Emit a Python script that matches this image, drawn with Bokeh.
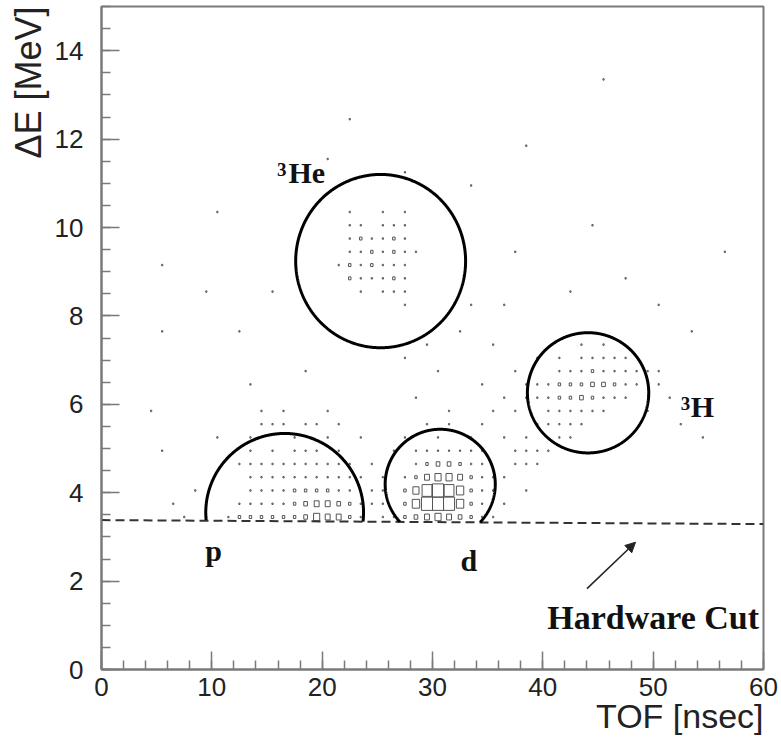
import numpy as np
from bokeh.plotting import figure
from bokeh.models import Range1d, Label, Title, Arrow, NormalHead, SingleIntervalTicker, ColumnDataSource
from bokeh.embed import file_html
from bokeh.resources import INLINE

# Histogram binning: 1 nsec in TOF, 0.3 MeV in dE
TOF_BIN = 1.0
DE_BIN = 0.3

# Box sizes (0-9, '.' = empty). Each block: first TOF bin, top dE bin, rows from top down.
PROTON_I0, PROTON_JTOP = 11, 19
PROTON_ROWS = [
    "...1.1...1.....",
    "....11.11.1....",
    "..1...1..1..1..",
    "..1.1.111.1....",
    ".11111111111...",
    "..11111111111..",
    "..1111222211...",
    ".111112344321..",
    "1222222354421..",
]

DEUTERON_I0, DEUTERON_JTOP = 25, 18
DEUTERON_ROWS = [
    "....1.1..1..",
    "..1..1..1...",
    "...1111111..",
    "...1233211..",
    "..124554211.",
    "1.25898621..",
    "1.26999621..",
    "11234543211.",
]

HELION_I0, HELION_JTOP = 21, 34
HELION_ROWS = [
    ".1..1.1.",
    ".11.111.",
    ".121121.",
    ".1121211",
    "1212111.",
    ".211121.",
    "..1.111.",
    "......1.",
]

TRITON_I0, TRITON_JTOP = 38, 24
TRITON_ROWS = [
    ".....1.1.....",
    "...1.11111...",
    "...1112111111",
    "11122233211..",
    "1112232111...",
    "..111111.....",
    ".11111.......",
    "...11........",
    "11...........",
    "1............",
]

# Sparse single counts elsewhere: (TOF bin, dE bin)
SCATTER_BINS = [
    (6, 12), (7, 11), (8, 13), (9, 11), (5, 16), (10, 17), (4, 19), (5, 25), (5, 30),
    (24, 12), (24, 13), (25, 14), (24, 15), (26, 16),
    (35, 13), (36, 14), (36, 12), (37, 15), (37, 16), (38, 17), (39, 18), (36, 17),
    (37, 19), (38, 13), (39, 15), (40, 16), (49, 19), (50, 21), (51, 20), (52, 18),
    (36, 20), (37, 22), (39, 23), (35, 19), (30, 22), (32, 25), (34, 21), (33, 27),
    (29, 24), (31, 19), (28, 20), (27, 23), (35, 24), (36, 27), (12, 25), (15, 28),
    (18, 22), (10, 34), (9, 28), (14, 18), (13, 21), (20, 38), (22, 41), (33, 36),
    (38, 39), (45, 44), (27, 37), (37, 31), (44, 33), (56, 31), (53, 25), (54, 17),
    (50, 27), (47, 29), (42, 28),
]

# Particle-identification cuts: centre and radii in data units
CUT_CX = [25.3, 44.1, 16.6, 30.7]
CUT_CY = [9.24, 6.26, 3.55, 4.19]
CUT_RX = [7.7, 5.5, 7.15, 4.99]
CUT_RY = [1.96, 1.36, 1.79, 1.245]

# Hardware threshold line
HW_TOF = [0.0, 60.0]
HW_DE = [3.38, 3.29]

blocks = [
    (PROTON_I0, PROTON_JTOP, PROTON_ROWS),
    (DEUTERON_I0, DEUTERON_JTOP, DEUTERON_ROWS),
    (HELION_I0, HELION_JTOP, HELION_ROWS),
    (TRITON_I0, TRITON_JTOP, TRITON_ROWS),
]
cells = {}
for i0, jtop, rows in blocks:
    for r, row in enumerate(rows):
        for c, ch in enumerate(row):
            if ch != ".":
                cells[(i0 + c, jtop - r)] = int(ch)
for ij in SCATTER_BINS:
    cells.setdefault(ij, 1)

bx, by, bw, bh = [], [], [], []
for (i, j), lvl in cells.items():
    f = lvl / 9.0
    bx.append((i + 0.5) * TOF_BIN)
    by.append((j + 0.5) * DE_BIN)
    bw.append(f * TOF_BIN)
    bh.append(f * DE_BIN)
boxes = ColumnDataSource(dict(x=bx, y=by, w=bw, h=bh))

p = figure(frame_width=662, frame_height=663, output_backend="svg", toolbar_location=None,
           x_range=Range1d(0, 60), y_range=Range1d(0, 15),
           min_border_left=101, min_border_right=18, min_border_top=6, min_border_bottom=71)
p.background_fill_color = "white"
p.border_fill_color = "white"
p.outline_line_color = "#7a7a7a"
p.outline_line_width = 2
p.xgrid.visible = False
p.ygrid.visible = False

p.xaxis.ticker = SingleIntervalTicker(interval=10, num_minor_ticks=5)
p.yaxis.ticker = SingleIntervalTicker(interval=2, num_minor_ticks=4)
for ax in (p.xaxis[0], p.yaxis[0]):
    ax.axis_line_color = "#7a7a7a"
    ax.axis_line_width = 2
    ax.major_tick_line_color = "#7a7a7a"
    ax.minor_tick_line_color = "#7a7a7a"
    ax.major_tick_line_width = 1.5
    ax.minor_tick_line_width = 1.5
    ax.major_tick_in = 18
    ax.major_tick_out = 0
    ax.minor_tick_in = 9
    ax.minor_tick_out = 0
    ax.major_label_text_font = "Liberation Sans"
    ax.major_label_text_font_size = "26px"
    ax.major_label_text_color = "#222222"
p.yaxis.major_label_standoff = 18
p.xaxis.major_label_standoff = 8

# axis titles, flush with the top and right ends of the frame
p.add_layout(Title(text="ΔE [MeV]", align="right", text_font="Liberation Sans",
                   text_font_size="36px", text_font_style="normal",
                   text_color="#222222", standoff=6), "left")
p.add_layout(Title(text="TOF [nsec]", align="right", text_font="Liberation Sans",
                   text_font_size="34px", text_font_style="normal",
                   text_color="#222222", standoff=-8), "below")

# histogram boxes
p.rect(x="x", y="y", width="w", height="h", source=boxes,
       fill_color=None, line_color="#555555", line_width=1)

# hardware cut
p.line(HW_TOF, HW_DE, line_color="#333333", line_width=2, line_dash="9 5")

# PID cut contours, kept above the hardware threshold
t = np.linspace(-np.pi / 2, 1.5 * np.pi, 721)
for cx, cy, rx, ry in zip(CUT_CX, CUT_CY, CUT_RX, CUT_RY):
    xs = cx + rx * np.cos(t)
    ys = cy + ry * np.sin(t)
    keep = ys >= np.interp(xs, HW_TOF, HW_DE)
    p.line(xs[keep], ys[keep], line_color="black", line_width=3)

p.add_layout(Arrow(x_start=44.0, y_start=1.83, x_end=48.4, y_end=2.88,
                   line_width=1.5, line_color="#222222",
                   end=NormalHead(size=10, fill_color="#222222", line_color="#222222")))

serif = dict(text_font="Liberation Serif", text_font_style="bold", text_color="#111111",
             text_baseline="bottom")
p.add_layout(Label(x=10.15, y=2.31, text="p", text_align="center", text_font_size="30px", **serif))
p.add_layout(Label(x=33.3, y=2.10, text="d", text_align="center", text_font_size="30px", **serif))
p.add_layout(Label(x=16.95, y=10.88, text="He", text_font_size="30px", **serif))
p.add_layout(Label(x=15.9, y=11.16, text="3", text_font_size="19px", **serif))
p.add_layout(Label(x=53.4, y=5.57, text="H", text_font_size="30px", **serif))
p.add_layout(Label(x=52.5, y=5.88, text="3", text_font_size="19px", **serif))
p.add_layout(Label(x=40.4, y=0.76, text="Hardware Cut", text_font_size="34px", **serif))

open("out.html", "w").write(file_html(p, INLINE))
